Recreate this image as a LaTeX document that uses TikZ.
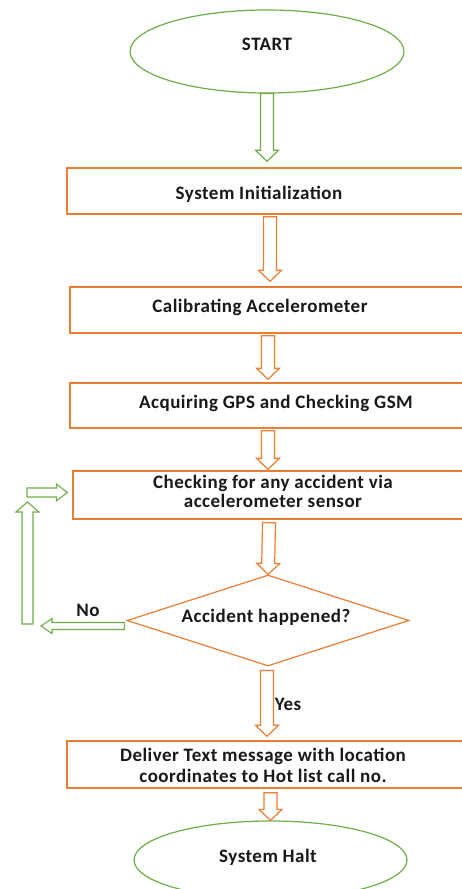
\documentclass[tikz,border=0pt]{standalone}
\usepackage{fontspec}
\setmainfont{Carlito}[LetterSpace=2.5]
\usetikzlibrary{shapes.geometric,calc}
\definecolor{ogreen}{HTML}{70AD47}
\definecolor{oorange}{HTML}{ED7D31}
\tikzset{
  blk/.style n args={3}{to path={
    let \p1=(\tikztostart), \p2=(\tikztotarget),
        \n1={atan2(\y2-\y1,\x2-\x1)}, \n2={veclen(\x2-\x1,\y2-\y1)} in
    ($(\p1)+(\n1+90:#1)$) -- ($(\p1)+(\n1:\n2-#3)+(\n1+90:#1)$)
    -- ($(\p1)+(\n1:\n2-#3)+(\n1+90:#2)$) -- (\p2)
    -- ($(\p1)+(\n1:\n2-#3)+(\n1-90:#2)$) -- ($(\p1)+(\n1:\n2-#3)+(\n1-90:#1)$)
    -- ($(\p1)+(\n1-90:#1)$) -- cycle}},
  bigarr/.style={draw=#1, line width=1.2pt, fill=white, blk={6.5pt}{11.5pt}{11pt}},
  procbox/.style={draw=oorange, line width=1.4pt, rectangle, inner sep=0pt},
  term/.style={draw=ogreen, line width=1.2pt, ellipse, inner sep=0pt},
  lbl/.style={font=\fontsize{19pt}{21pt}\selectfont\bfseries, text=black!90, anchor=base, inner sep=0pt}
}
\begin{document}
\begin{tikzpicture}[x=1pt,y=1pt]
\useasboundingbox (0,0) rectangle (462,889);
\clip (0,0) rectangle (462,889);
\fill[white] (0,0) rectangle (462,889);
% shapes
\node[term, minimum width=274pt, minimum height=83pt] (start) at (267,837.5) {};
\node[procbox, minimum width=413pt, minimum height=46pt] (init) at (273.5,698) {};
\node[procbox, minimum width=410pt, minimum height=46pt] (cal) at (275,579) {};
\node[procbox, minimum width=410pt, minimum height=45pt] (acq) at (275,483.5) {};
\node[procbox, minimum width=407pt, minimum height=48pt] (chk) at (276.5,394) {};
\node[draw=oorange, line width=1.2pt, diamond, inner sep=0pt, minimum width=282pt, minimum height=91pt] (dec) at (268,268.5) {};
\node[procbox, minimum width=413pt, minimum height=47pt] (dlv) at (273.5,124.5) {};
\node[term, minimum width=273pt, minimum height=78pt] (halt) at (270.5,29) {};
% labels
\node[lbl] (tstart) at (267,838) {START};
\node[lbl] (tinit) at (259,689) {System Initialization};
\node[lbl] (tcal) at (260,576) {Calibrating Accelerometer};
\node[lbl] (tacq) at (276,480) {Acquiring GPS and Checking GSM};
\node[lbl] (tchk1) at (273,400) {Checking for any accident via};
\node[lbl] (tchk2) at (273,381) {accelerometer sensor};
\node[lbl] (tdec) at (266,266) {Accident happened?};
\node[lbl] (tno) at (88,272) {No};
\node[lbl] (tyes) at (288,178) {Yes};
\node[lbl] (tdlv1) at (263,127) {Deliver Text message with location};
\node[lbl] (tdlv2) at (263,106) {coordinates to Hot list call no.};
\node[lbl] (thalt) at (268,27) {System Halt};
% loop-back coordinates
\coordinate (nl) at (41,263);
\coordinate (lb) at (27.5,265);
\coordinate (lt) at (27.5,387);
\coordinate (rs) at (27,396.5);
% connectors
\draw[bigarr=ogreen] (start.south) to ($(init.north -| start)+(0,6)$);
\draw[bigarr=oorange] ($(init.south -| start)+(3,-2)$) to ($(cal.north -| start)+(3,5)$);
\draw[bigarr=oorange] ($(cal.south -| start)+(1,-2)$) to ($(acq.north -| start)+(1,3)$);
\draw[bigarr=oorange] ($(acq.south -| start)+(1,-2)$) to ($(chk.north -| start)+(1,1)$);
\draw[bigarr=oorange] ($(chk.south -| start)+(2,-3)$) to (dec.north);
\draw[draw=ogreen, line width=1.1pt, fill=white, blk={3.5pt}{7.5pt}{11pt}] ($(dec.west)+(-2,-5.5)$) to (nl);
\draw[draw=ogreen, line width=1.1pt, fill=white, blk={5.5pt}{11.5pt}{10pt}] (lb) to (lt);
\draw[draw=ogreen, line width=1.1pt, fill=white, blk={4.5pt}{8.5pt}{11pt}] (rs) to ($(chk.west)+(-5,2.5)$);
\draw[bigarr=oorange] ($(dec.south)+(-1,-4)$) to ($(dlv.north -| dec)+(-1,4)$);
\draw[bigarr=oorange] ($(dlv.south -| halt)+(0,-4)$) to (halt.north);
\end{tikzpicture}
\end{document}
